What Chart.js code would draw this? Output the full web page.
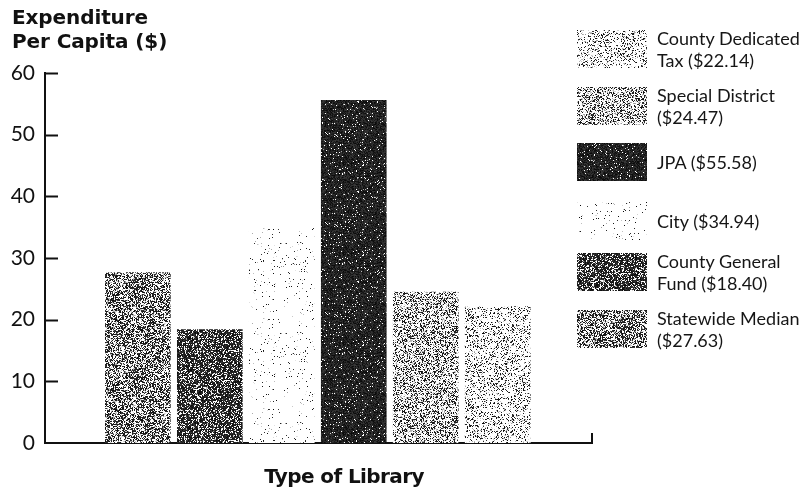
<!DOCTYPE html>
<html>
<head>
<meta charset="utf-8">
<script src="https://cdn.jsdelivr.net/npm/chart.js@4.4.1/dist/chart.umd.min.js"></script>
<style>
  html, body { margin: 0; padding: 0; background: #fff; }
  #wrap { position: relative; width: 801px; height: 494px; }
  #yTitle { position: absolute; left: 12px; top: 5px; font: 700 20px "DejaVu Sans", sans-serif; line-height: 24px; color: #111; letter-spacing: -0.1px; }
  #xTitle { position: absolute; left: 244px; width: 200px; top: 464px; text-align: center; font: 700 20px "DejaVu Sans", sans-serif; color: #111; letter-spacing: -0.6px; }
  #legend { position: absolute; left: 0; top: 0; }
  .item { position: absolute; left: 577px; }
  .item canvas { position: absolute; left: 0; }
  .item span { position: absolute; left: 80px; width: 150px; font: 18px Lato, sans-serif; line-height: 22px; color: #151515; white-space: nowrap; }
</style>
</head>
<body>
<div id="wrap">
  <canvas id="chart" width="801" height="494"></canvas>
  <div id="yTitle">Expenditure<br>Per Capita ($)</div>
  <div id="xTitle">Type of Library</div>
  <div id="legend"></div>
</div>
<script>
// library types, left to right on the chart
const libraryTypes = ["Statewide Median", "County General Fund", "City", "JPA", "Special District", "County Dedicated Tax"];
const spending = [27.63, 18.40, 34.94, 55.58, 24.47, 22.14];
// legend text, top to bottom
const legendOrder = [5, 4, 3, 2, 1, 0];
const legendText = [
  ["County Dedicated", "Tax ($22.14)"],
  ["Special District", "($24.47)"],
  ["JPA ($55.58)"],
  ["City ($34.94)"],
  ["County General", "Fund ($18.40)"],
  ["Statewide Median", "($27.63)"]
];
const yTicks = [0, 10, 20, 30, 40, 50, 60];

// stipple density of each bar's screen
const inkDensity = [0.46, 0.72, 0.02, 0.94, 0.30, 0.17];

function mulberry(seed) {
  return function () {
    seed |= 0; seed = seed + 0x6D2B79F5 | 0;
    let t = Math.imul(seed ^ seed >>> 15, 1 | seed);
    t = t + Math.imul(t ^ t >>> 7, 61 | t) ^ t;
    return ((t ^ t >>> 14) >>> 0) / 4294967296;
  };
}

function stippleCanvas(density, seed) {
  const c = document.createElement("canvas");
  c.width = 90; c.height = 90;
  const g = c.getContext("2d");
  const img = g.createImageData(90, 90);
  const rnd = mulberry(seed);
  for (let i = 0; i < 90 * 90; i++) {
    let v = 255;
    const r = rnd();
    if (r < density) v = 8 + rnd() * 50;
    else if (r < density + (1 - density) * 0.3 * Math.min(1, density * 3)) v = 150 + rnd() * 80;
    img.data[i * 4] = v; img.data[i * 4 + 1] = v; img.data[i * 4 + 2] = v; img.data[i * 4 + 3] = 255;
  }
  g.putImageData(img, 0, 0);
  return c;
}

const screens = inkDensity.map((d, i) => stippleCanvas(d, 17 + i * 31));
const ctx = document.getElementById("chart").getContext("2d");
const fills = screens.map(s => ctx.createPattern(s, "repeat"));

// ticks drawn inside the axis, plus the closing tick at the right end
const axisMarks = {
  id: "axisMarks",
  afterDraw(chart) {
    const { ctx, scales: { x, y } } = chart;
    ctx.save();
    ctx.strokeStyle = "#111";
    ctx.lineWidth = 2;
    yTicks.forEach(v => {
      if (v === 0) return;
      const py = Math.round(y.getPixelForValue(v)) + 0.5;
      ctx.beginPath();
      ctx.moveTo(x.left, py);
      ctx.lineTo(x.left + 13, py);
      ctx.stroke();
    });
    const px = x.right;
    ctx.beginPath();
    ctx.moveTo(px, y.bottom);
    ctx.lineTo(px, y.bottom - 10);
    ctx.stroke();
    ctx.restore();
  }
};

new Chart(ctx, {
  type: "bar",
  data: {
    labels: libraryTypes,
    datasets: [{
      data: spending.map((v, i) => ({ x: i, y: v })),
      backgroundColor: fills,
      borderWidth: 0,
      barThickness: 65
    }]
  },
  options: {
    responsive: false,
    animation: false,
    events: [],
    layout: { padding: { left: 0, right: 209, top: 73, bottom: 0 } },
    plugins: { legend: { display: false }, tooltip: { enabled: false } },
    scales: {
      x: {
        type: "linear",
        offset: false,
        min: -1.29,
        max: 6.31,
        grid: { display: false, drawTicks: false, offset: false },
        border: { display: true, color: "#111", width: 2 },
        ticks: { display: false },
        afterFit: s => { s.height = 51; }
      },
      y: {
        min: 0,
        max: 60,
        afterBuildTicks: s => { s.ticks = yTicks.map(v => ({ value: v })); },
        grid: { display: false, drawTicks: false },
        border: { display: true, color: "#111", width: 2 },
        ticks: { padding: 10, color: "#111", font: { family: "Lato", size: 21 } },
        afterFit: s => { s.width = 45; }
      }
    }
  },
  plugins: [axisMarks]
});

// legend swatches reuse the bar screens
const legendTops = [30, 87, 143, 202, 253, 310];
const legend = document.getElementById("legend");
legendOrder.forEach((idx, row) => {
  const item = document.createElement("div");
  item.className = "item";
  item.style.top = legendTops[row] + "px";
  const sw = document.createElement("canvas");
  sw.width = 70; sw.height = 38;
  sw.getContext("2d").drawImage(screens[idx], 0, 0, 70, 38, 0, 0, 70, 38);
  item.appendChild(sw);
  const txt = document.createElement("span");
  const lines = legendText[row];
  txt.style.top = (lines.length === 1 ? 8 : -3) + "px";
  txt.innerHTML = lines.join("<br>");
  item.appendChild(txt);
  legend.appendChild(item);
});
</script>
</body>
</html>
